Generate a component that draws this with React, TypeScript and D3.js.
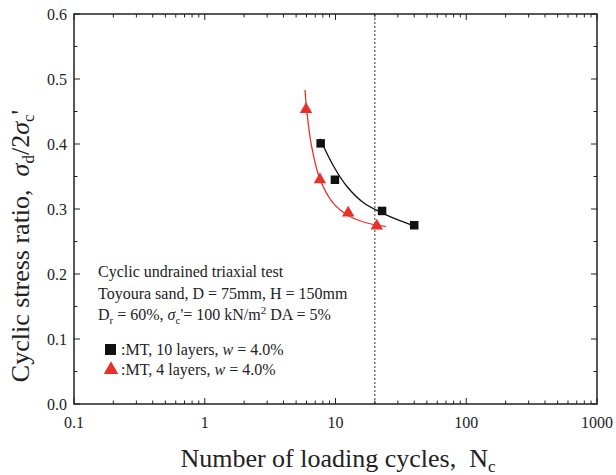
import React from "react";
import * as d3 from "d3";

const xTicks = [0.1, 1, 10, 100, 1000];
const xTickLabels = ["0.1", "1", "10", "100", "1000"];
const yTicks = [0, 0.1, 0.2, 0.3, 0.4, 0.5, 0.6];
const yTickLabels = ["0.0", "0.1", "0.2", "0.3", "0.4", "0.5", "0.6"];

const mt10N = [7.7, 9.9, 22.7, 40];
const mt10CSR = [0.401, 0.345, 0.297, 0.275];
const mt4N = [5.95, 7.6, 12.5, 20.7];
const mt4CSR = [0.454, 0.346, 0.295, 0.275];

const mt10CurveN = [7.6, 9.6, 12.2, 16.3, 22.7, 31.1, 40];
const mt10CurveCSR = [0.408, 0.367, 0.335, 0.31, 0.294, 0.282, 0.274];
const mt4CurveN = [5.85, 6.0, 6.57, 7.6, 9.6, 12.5, 16.3, 24.3];
const mt4CurveCSR = [0.483, 0.455, 0.396, 0.346, 0.309, 0.29, 0.28, 0.273];

const limitN = 20;

const RED = "#e8312a";
const FONT = "'Liberation Serif', 'Times New Roman', serif";

export default function App() {
  const W = 616, H = 475;
  const L = 74, R = 597, T = 14, B = 404;
  const x = d3.scaleLog().domain([0.1, 1000]).range([L, R]);
  const y = d3.scaleLinear().domain([0, 0.6]).range([B, T]);

  const minorX: number[] = [];
  for (let e = -1; e < 3; e++) {
    for (let k = 2; k <= 9; k++) minorX.push(k * Math.pow(10, e));
  }
  const minorY = d3.range(0.05, 0.6, 0.1);

  const line = d3
    .line<[number, number]>()
    .x((d) => x(d[0]))
    .y((d) => y(d[1]))
    .curve(d3.curveCatmullRom.alpha(0.5));

  const c10 = mt10CurveN.map((n, i) => [n, mt10CurveCSR[i]] as [number, number]);
  const c4 = mt4CurveN.map((n, i) => [n, mt4CurveCSR[i]] as [number, number]);

  const tri = (cx: number, cy: number, s: number) =>
    `M${cx},${cy - s * 0.55} L${cx + s * 0.52},${cy + s * 0.35} L${cx - s * 0.52},${cy + s * 0.35} Z`;

  const majorLen = 6, minorLen = 3.5;
  const pre = { whiteSpace: "pre" as const };

  return (
    <svg
      width={W}
      height={H}
      style={{ position: "absolute", left: 0, top: 0, background: "#fff" }}
      fontFamily={FONT}
      xmlSpace="preserve"
    >
      <rect x={0} y={0} width={W} height={H} fill="#fff" />
      <line
        x1={x(limitN)}
        x2={x(limitN)}
        y1={T}
        y2={B}
        stroke="#555"
        strokeWidth={1.2}
        strokeDasharray="2,2"
      />
      <g stroke="#222" strokeWidth={1}>
        {xTicks.map((t) => (
          <g key={"xt" + t}>
            <line x1={x(t)} x2={x(t)} y1={B} y2={B - majorLen} />
            <line x1={x(t)} x2={x(t)} y1={T} y2={T + majorLen} />
          </g>
        ))}
        {minorX.map((t) => (
          <g key={"xm" + t}>
            <line x1={x(t)} x2={x(t)} y1={B} y2={B - minorLen} />
            <line x1={x(t)} x2={x(t)} y1={T} y2={T + minorLen} />
          </g>
        ))}
        {yTicks.map((t) => (
          <g key={"yt" + t}>
            <line x1={L} x2={L + majorLen} y1={y(t)} y2={y(t)} />
            <line x1={R} x2={R - majorLen} y1={y(t)} y2={y(t)} />
          </g>
        ))}
        {minorY.map((t) => (
          <g key={"ym" + t}>
            <line x1={L} x2={L + minorLen} y1={y(t)} y2={y(t)} />
            <line x1={R} x2={R - minorLen} y1={y(t)} y2={y(t)} />
          </g>
        ))}
      </g>
      <rect x={L} y={T} width={R - L} height={B - T} fill="none" stroke="#222" strokeWidth={1.5} />
      <g fontSize={16} fill="#222">
        {xTicks.map((t, i) => (
          <text key={"xl" + t} x={x(t)} y={B + 24} textAnchor="middle">
            {xTickLabels[i]}
          </text>
        ))}
        {yTicks.map((t, i) => (
          <text key={"yl" + t} x={L - 7} y={y(t) + 5.5} textAnchor="end">
            {yTickLabels[i]}
          </text>
        ))}
      </g>
      <path d={line(c4) || ""} fill="none" stroke={RED} strokeWidth={1.3} />
      <path d={line(c10) || ""} fill="none" stroke="#111" strokeWidth={1.3} />
      {mt4N.map((n, i) => (
        <path key={"t" + i} d={tri(x(n), y(mt4CSR[i]), 12)} fill={RED} />
      ))}
      {mt10N.map((n, i) => (
        <rect key={"s" + i} x={x(n) - 4.25} y={y(mt10CSR[i]) - 4.25} width={8.5} height={8.5} fill="#111" />
      ))}
      <g fontSize={16} fill="#222" style={pre}>
        <text x={98} y={277}>Cyclic undrained triaxial test</text>
        <text x={98} y={299}>{"Toyoura sand,  D = 75mm,  H = 150mm"}</text>
        <text x={98} y={320}>
          D<tspan fontSize={11} dy={4}>r</tspan>
          <tspan dy={-4}>{" = 60%,  "}</tspan>
          <tspan fontStyle="italic">σ</tspan>
          <tspan fontSize={11} dy={4}>c</tspan>
          <tspan dy={-4}>{"'= 100 kN/m"}</tspan>
          <tspan fontSize={11} dy={-6}>2</tspan>
          <tspan dy={6}>{" DA = 5%"}</tspan>
        </text>
        <rect x={105} y={344} width={11} height={11} fill="#111" />
        <text x={121} y={355}>
          {":MT,  10 layers,  "}<tspan fontStyle="italic">w</tspan>{" = 4.0%"}
        </text>
        <path d={tri(111, 369, 14)} fill={RED} />
        <text x={121} y={375}>
          {":MT,  4 layers,  "}<tspan fontStyle="italic">w</tspan>{" = 4.0%"}
        </text>
      </g>
      <text x={338} y={467} fontSize={26} textAnchor="middle" fill="#222" style={pre}>
        {"Number of loading cycles,  N"}<tspan fontSize={17} dy={5}>c</tspan>
      </text>
      <text
        transform={`translate(29, 246) rotate(-90)`}
        fontSize={26}
        textAnchor="middle"
        fill="#222"
        style={pre}
      >
        {"Cyclic stress ratio,  "}<tspan fontStyle="italic">σ</tspan>
        <tspan fontSize={17} dy={5}>d</tspan>
        <tspan dy={-5}>/2</tspan>
        <tspan fontStyle="italic">σ</tspan>
        <tspan fontSize={17} dy={5}>c</tspan>
        <tspan dy={-5}>'</tspan>
      </text>
    </svg>
  );
}
